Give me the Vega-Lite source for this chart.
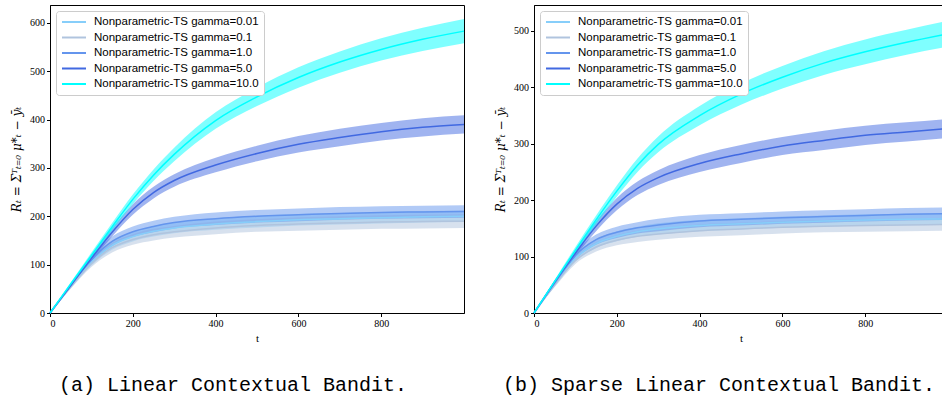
{
  "$schema": "https://vega.github.io/schema/vega-lite/v6.json",
  "autosize": {"type": "pad"},
  "padding": {"left": 10, "top": 4, "right": 0, "bottom": 0},
  "background": "white",
  "config": {
    "view": {"stroke": "black", "strokeWidth": 1},
    "axis": {"domainColor": "black", "tickColor": "black", "labelFont": "Liberation Serif", "labelFontSize": 10, "labelColor": "black", "titleFont": "Liberation Serif", "titleFontWeight": "normal", "titleFontSize": 11, "titleColor": "black", "grid": false, "tickSize": 3.5, "labelPadding": 2},
    "legend": {"orient": "top-left", "offset": 6, "labelFont": "Liberation Sans", "labelFontSize": 11.5, "labelColor": "black", "symbolSize": 100, "symbolStrokeWidth": 2, "symbolOpacity": 1, "fillColor": "white", "strokeColor": "#cccccc", "cornerRadius": 3, "padding": 5, "rowPadding": 3.5, "labelOffset": 21, "labelLimit": 300},
    "title": {"font": "Liberation Mono", "fontSize": 20, "fontWeight": "normal", "color": "black", "orient": "bottom", "offset": 31, "anchor": "middle"}
  },
  "spacing": 26,
  "resolve": {"scale": {"color": "independent", "y": "independent"}, "legend": {"color": "independent"}},
  "datasets": {
    "a": [
      {"g":"0.01","t":0,"m":0,"lo":0,"hi":0},{"g":"0.01","t":50,"m":55,"lo":51,"hi":59},{"g":"0.01","t":100,"m":105,"lo":98,"hi":112},{"g":"0.01","t":150,"m":140,"lo":131,"hi":149},{"g":"0.01","t":200,"m":158,"lo":148,"hi":168},{"g":"0.01","t":250,"m":169,"lo":158,"hi":180},{"g":"0.01","t":300,"m":176,"lo":165,"hi":187},{"g":"0.01","t":400,"m":184,"lo":172,"hi":196},{"g":"0.01","t":500,"m":189,"lo":177,"hi":201},{"g":"0.01","t":600,"m":193,"lo":181,"hi":205},{"g":"0.01","t":700,"m":195,"lo":183,"hi":207},{"g":"0.01","t":800,"m":197,"lo":185,"hi":209},{"g":"0.01","t":900,"m":199,"lo":187,"hi":211},{"g":"0.01","t":1000,"m":200,"lo":188,"hi":212},
      {"g":"0.1","t":0,"m":0,"lo":0,"hi":0},{"g":"0.1","t":50,"m":54,"lo":50,"hi":58},{"g":"0.1","t":100,"m":102,"lo":95,"hi":109},{"g":"0.1","t":150,"m":135,"lo":125,"hi":145},{"g":"0.1","t":200,"m":152,"lo":141,"hi":163},{"g":"0.1","t":250,"m":162,"lo":150,"hi":174},{"g":"0.1","t":300,"m":168,"lo":156,"hi":180},{"g":"0.1","t":400,"m":176,"lo":163,"hi":189},{"g":"0.1","t":500,"m":181,"lo":168,"hi":194},{"g":"0.1","t":600,"m":184,"lo":170,"hi":198},{"g":"0.1","t":700,"m":186,"lo":172,"hi":200},{"g":"0.1","t":800,"m":188,"lo":174,"hi":202},{"g":"0.1","t":900,"m":189,"lo":175,"hi":203},{"g":"0.1","t":1000,"m":190,"lo":176,"hi":204},
      {"g":"1.0","t":0,"m":0,"lo":0,"hi":0},{"g":"1.0","t":50,"m":57,"lo":53,"hi":61},{"g":"1.0","t":100,"m":110,"lo":103,"hi":117},{"g":"1.0","t":150,"m":148,"lo":138,"hi":158},{"g":"1.0","t":200,"m":168,"lo":157,"hi":179},{"g":"1.0","t":250,"m":179,"lo":167,"hi":191},{"g":"1.0","t":300,"m":187,"lo":175,"hi":199},{"g":"1.0","t":400,"m":195,"lo":182,"hi":208},{"g":"1.0","t":500,"m":200,"lo":187,"hi":213},{"g":"1.0","t":600,"m":203,"lo":190,"hi":216},{"g":"1.0","t":700,"m":206,"lo":193,"hi":219},{"g":"1.0","t":800,"m":208,"lo":195,"hi":221},{"g":"1.0","t":900,"m":209,"lo":196,"hi":222},{"g":"1.0","t":1000,"m":210,"lo":197,"hi":223},
      {"g":"5.0","t":0,"m":0,"lo":0,"hi":0},{"g":"5.0","t":50,"m":57,"lo":54,"hi":60},{"g":"5.0","t":100,"m":113,"lo":107,"hi":119},{"g":"5.0","t":150,"m":167,"lo":158,"hi":176},{"g":"5.0","t":200,"m":214,"lo":203,"hi":225},{"g":"5.0","t":250,"m":249,"lo":237,"hi":261},{"g":"5.0","t":300,"m":274,"lo":261,"hi":287},{"g":"5.0","t":400,"m":306,"lo":291,"hi":321},{"g":"5.0","t":500,"m":330,"lo":314,"hi":346},{"g":"5.0","t":600,"m":349,"lo":332,"hi":366},{"g":"5.0","t":700,"m":363,"lo":345,"hi":381},{"g":"5.0","t":800,"m":375,"lo":357,"hi":393},{"g":"5.0","t":900,"m":384,"lo":365,"hi":403},{"g":"5.0","t":1000,"m":390,"lo":371,"hi":409},
      {"g":"10.0","t":0,"m":0,"lo":0,"hi":0},{"g":"10.0","t":50,"m":60,"lo":57,"hi":63},{"g":"10.0","t":100,"m":119,"lo":113,"hi":125},{"g":"10.0","t":150,"m":178,"lo":170,"hi":186},{"g":"10.0","t":200,"m":235,"lo":225,"hi":245},{"g":"10.0","t":250,"m":285,"lo":273,"hi":297},{"g":"10.0","t":300,"m":328,"lo":314,"hi":342},{"g":"10.0","t":400,"m":398,"lo":381,"hi":415},{"g":"10.0","t":500,"m":447,"lo":428,"hi":466},{"g":"10.0","t":600,"m":487,"lo":466,"hi":508},{"g":"10.0","t":700,"m":519,"lo":497,"hi":541},{"g":"10.0","t":800,"m":545,"lo":522,"hi":568},{"g":"10.0","t":900,"m":566,"lo":542,"hi":590},{"g":"10.0","t":1000,"m":583,"lo":558,"hi":608}
    ],
    "b": [
      {"g":"0.01","t":0,"m":0,"lo":0,"hi":0},{"g":"0.01","t":50,"m":51,"lo":47,"hi":55},{"g":"0.01","t":100,"m":97,"lo":91,"hi":103},{"g":"0.01","t":150,"m":123,"lo":115,"hi":131},{"g":"0.01","t":200,"m":136,"lo":127,"hi":145},{"g":"0.01","t":250,"m":144,"lo":135,"hi":153},{"g":"0.01","t":300,"m":149,"lo":139,"hi":159},{"g":"0.01","t":400,"m":155,"lo":145,"hi":165},{"g":"0.01","t":500,"m":158,"lo":148,"hi":168},{"g":"0.01","t":600,"m":161,"lo":151,"hi":171},{"g":"0.01","t":700,"m":163,"lo":153,"hi":173},{"g":"0.01","t":800,"m":165,"lo":155,"hi":175},{"g":"0.01","t":900,"m":166,"lo":156,"hi":176},{"g":"0.01","t":1000,"m":167,"lo":157,"hi":177},
      {"g":"0.1","t":0,"m":0,"lo":0,"hi":0},{"g":"0.1","t":50,"m":50,"lo":46,"hi":54},{"g":"0.1","t":100,"m":93,"lo":87,"hi":99},{"g":"0.1","t":150,"m":117,"lo":109,"hi":125},{"g":"0.1","t":200,"m":129,"lo":120,"hi":138},{"g":"0.1","t":250,"m":136,"lo":126,"hi":146},{"g":"0.1","t":300,"m":140,"lo":130,"hi":150},{"g":"0.1","t":400,"m":146,"lo":135,"hi":157},{"g":"0.1","t":500,"m":149,"lo":138,"hi":160},{"g":"0.1","t":600,"m":152,"lo":141,"hi":163},{"g":"0.1","t":700,"m":154,"lo":143,"hi":165},{"g":"0.1","t":800,"m":155,"lo":144,"hi":166},{"g":"0.1","t":900,"m":156,"lo":145,"hi":167},{"g":"0.1","t":1000,"m":157,"lo":146,"hi":168},
      {"g":"1.0","t":0,"m":0,"lo":0,"hi":0},{"g":"1.0","t":50,"m":53,"lo":49,"hi":57},{"g":"1.0","t":100,"m":102,"lo":95,"hi":109},{"g":"1.0","t":150,"m":130,"lo":121,"hi":139},{"g":"1.0","t":200,"m":143,"lo":133,"hi":153},{"g":"1.0","t":250,"m":151,"lo":141,"hi":161},{"g":"1.0","t":300,"m":156,"lo":145,"hi":167},{"g":"1.0","t":400,"m":163,"lo":152,"hi":174},{"g":"1.0","t":500,"m":166,"lo":155,"hi":177},{"g":"1.0","t":600,"m":169,"lo":158,"hi":180},{"g":"1.0","t":700,"m":171,"lo":160,"hi":182},{"g":"1.0","t":800,"m":173,"lo":162,"hi":184},{"g":"1.0","t":900,"m":175,"lo":164,"hi":186},{"g":"1.0","t":1000,"m":176,"lo":165,"hi":187},
      {"g":"5.0","t":0,"m":0,"lo":0,"hi":0},{"g":"5.0","t":50,"m":55,"lo":52,"hi":58},{"g":"5.0","t":100,"m":106,"lo":100,"hi":112},{"g":"5.0","t":150,"m":154,"lo":145,"hi":163},{"g":"5.0","t":200,"m":193,"lo":182,"hi":204},{"g":"5.0","t":250,"m":221,"lo":209,"hi":233},{"g":"5.0","t":300,"m":240,"lo":227,"hi":253},{"g":"5.0","t":400,"m":265,"lo":250,"hi":280},{"g":"5.0","t":500,"m":282,"lo":266,"hi":298},{"g":"5.0","t":600,"m":296,"lo":280,"hi":312},{"g":"5.0","t":700,"m":306,"lo":289,"hi":323},{"g":"5.0","t":800,"m":315,"lo":298,"hi":332},{"g":"5.0","t":900,"m":321,"lo":304,"hi":338},{"g":"5.0","t":1000,"m":327,"lo":310,"hi":344},
      {"g":"10.0","t":0,"m":0,"lo":0,"hi":0},{"g":"10.0","t":50,"m":56,"lo":53,"hi":59},{"g":"10.0","t":100,"m":111,"lo":105,"hi":117},{"g":"10.0","t":150,"m":165,"lo":157,"hi":173},{"g":"10.0","t":200,"m":216,"lo":206,"hi":226},{"g":"10.0","t":250,"m":262,"lo":250,"hi":274},{"g":"10.0","t":300,"m":299,"lo":285,"hi":313},{"g":"10.0","t":400,"m":350,"lo":333,"hi":367},{"g":"10.0","t":500,"m":388,"lo":369,"hi":407},{"g":"10.0","t":600,"m":418,"lo":398,"hi":438},{"g":"10.0","t":700,"m":443,"lo":422,"hi":464},{"g":"10.0","t":800,"m":463,"lo":441,"hi":485},{"g":"10.0","t":900,"m":480,"lo":458,"hi":502},{"g":"10.0","t":1000,"m":495,"lo":472,"hi":518}
    ]
  },
  "hconcat": [
    {
      "width": 414, "height": 308,
      "data": {"name": "a"},
      "title": {"text": "(a) Linear Contextual Bandit.", "dx": -24},
      "encoding": {
        "x": {"field": "t", "type": "quantitative", "scale": {"domain": [0, 1000], "nice": false}, "axis": {"values": [0, 200, 400, 600, 800], "title": "t", "titlePadding": 4}},
        "color": {"field": "g", "type": "nominal", "scale": {"domain": ["0.01", "0.1", "1.0", "5.0", "10.0"], "range": ["#87CEFA", "#B0C4DE", "#6495ED", "#4169E1", "#00FFFF"]}, "legend": {"title": null, "symbolType": "M-1,0H3.8", "labelExpr": "'Nonparametric-TS gamma=' + datum.label"}}
      },
      "layer": [
        {"mark": {"type": "area", "opacity": 0.5, "interpolate": "monotone"},
         "encoding": {
           "y": {"field": "lo", "type": "quantitative", "scale": {"domain": [0, 637], "nice": false}, "axis": {"values": [0, 100, 200, 300, 400, 500, 600], "title": "Rₜ = Σᵀₜ₌₀ μ*ₜ − ȳₜ", "titleFont": "DejaVu Serif", "titleFontStyle": "italic", "titleFontSize": 12, "titlePadding": 6}},
           "y2": {"field": "hi"}
         }},
        {"mark": {"type": "line", "strokeWidth": 1.5, "interpolate": "monotone"},
         "encoding": {
           "y": {"field": "m", "type": "quantitative"}
         }}
      ]
    },
    {
      "width": 414, "height": 308,
      "data": {"name": "b"},
      "title": {"text": "(b) Sparse Linear Contextual Bandit.", "dx": -22},
      "encoding": {
        "x": {"field": "t", "type": "quantitative", "scale": {"domain": [0, 1000], "nice": false}, "axis": {"values": [0, 200, 400, 600, 800], "title": "t", "titlePadding": 4}},
        "color": {"field": "g", "type": "nominal", "scale": {"domain": ["0.01", "0.1", "1.0", "5.0", "10.0"], "range": ["#87CEFA", "#B0C4DE", "#6495ED", "#4169E1", "#00FFFF"]}, "legend": {"title": null, "symbolType": "M-1,0H3.8", "labelExpr": "'Nonparametric-TS gamma=' + datum.label"}}
      },
      "layer": [
        {"mark": {"type": "area", "opacity": 0.5, "interpolate": "monotone"},
         "encoding": {
           "y": {"field": "lo", "type": "quantitative", "scale": {"domain": [0, 546], "nice": false}, "axis": {"values": [0, 100, 200, 300, 400, 500], "title": "Rₜ = Σᵀₜ₌₀ μ*ₜ − ȳₜ", "titleFont": "DejaVu Serif", "titleFontStyle": "italic", "titleFontSize": 12, "titlePadding": 6}},
           "y2": {"field": "hi"}
         }},
        {"mark": {"type": "line", "strokeWidth": 1.5, "interpolate": "monotone"},
         "encoding": {
           "y": {"field": "m", "type": "quantitative"}
         }}
      ]
    }
  ]
}
